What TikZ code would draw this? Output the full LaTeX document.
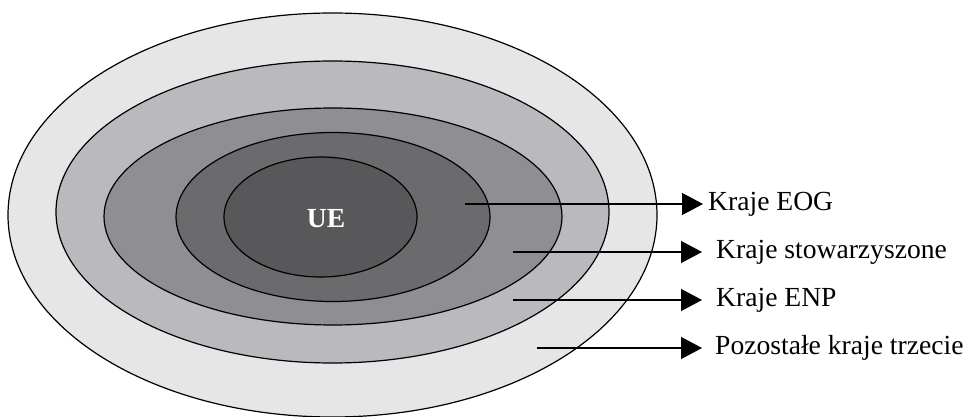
\documentclass[tikz,border=0pt]{standalone}
\usepackage{fontspec}
\setmainfont{Liberation Serif}
\usetikzlibrary{arrows.meta}
\definecolor{ringA}{HTML}{E6E6E6}
\definecolor{ringB}{HTML}{B9B9BE}
\definecolor{ringC}{HTML}{8E8E93}
\definecolor{ringD}{HTML}{6B6B6E}
\definecolor{ringE}{HTML}{58585B}
\tikzset{
  ring/.style={draw=black, line width=1.2pt},
  pointer/.style={draw=black, line width=1.2pt, -{Triangle[length=21pt,width=22pt]}},
  lab/.style={anchor=west, inner sep=0pt, font=\fontsize{27.6}{30}\selectfont},
}
\begin{document}
\begin{tikzpicture}[x=1pt,y=-1pt]
\useasboundingbox (0,0) rectangle (969,417);
\fill[white] (0,0) rectangle (969,417);
\path[ring, fill=ringA] (332.5,215) ellipse [x radius=324.5, y radius=202];
\path[ring, fill=ringB] (332.5,212) ellipse [x radius=276.5, y radius=151];
\path[ring, fill=ringC] (333,216.5) ellipse [x radius=229, y radius=108.5];
\path[ring, fill=ringD] (333,217) ellipse [x radius=157, y radius=84.5];
\path[ring, fill=ringE] (320.5,217) ellipse [x radius=96.5, y radius=60];
\node[font=\fontsize{27.6}{30}\selectfont\bfseries, text=white] (ue) at (326,219) {UE};
\coordinate (s1) at (465,204);
\coordinate (s2) at (513,252);
\coordinate (s3) at (513,300);
\coordinate (s4) at (537,348);
\coordinate (t1) at (703,204);
\coordinate (t2) at (702,252);
\coordinate (t3) at (702,300);
\coordinate (t4) at (702,348);
\node[lab] (l1) at (708,204) {Kraje EOG};
\node[lab] (l2) at (716,252) {Kraje stowarzyszone};
\node[lab] (l3) at (716,300) {Kraje ENP};
\node[lab] (l4) at (715,348) {Pozostałe kraje trzecie};
\draw[pointer] (s1) -- (t1);
\draw[pointer] (s2) -- (t2);
\draw[pointer] (s3) -- (t3);
\draw[pointer] (s4) -- (t4);
\end{tikzpicture}
\end{document}
